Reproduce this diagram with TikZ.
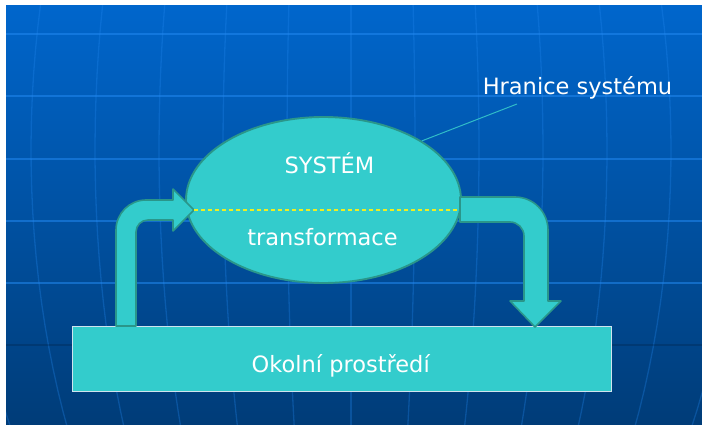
\documentclass[tikz,border=0pt]{standalone}
\usepackage{fontspec}
\setmainfont{DejaVu Sans}
\usetikzlibrary{shapes.geometric}

\definecolor{bgtop}{HTML}{0066CC}
\definecolor{bgbot}{HTML}{003C78}
\definecolor{gridblue}{HTML}{2288F0}
\definecolor{turq}{HTML}{33CCCC}
\definecolor{tealedge}{HTML}{2A968A}
\definecolor{boxedge}{HTML}{CFE4EE}
\definecolor{dashyellow}{HTML}{EEEE22}
\definecolor{leader}{HTML}{30BCC8}

\tikzset{
  gridline/.style={gridblue, opacity=0.55, line width=2pt},
  darkline/.style={black, opacity=0.15, line width=2pt},
  meridian/.style={gridblue, opacity=0.3, line width=1.3pt},
  blockarrow/.style={fill=turq, draw=tealedge, line width=1.6pt, line join=round},
  bubble/.style={ellipse, fill=turq, draw=tealedge, line width=1.9pt,
    minimum width=275pt, minimum height=166pt, inner sep=0pt},
  envbox/.style={rectangle, fill=turq, draw=boxedge, line width=1pt,
    minimum width=539pt, minimum height=65pt, inner sep=0pt},
  lbl/.style={text=white, font=\fontsize{22.5}{27}\selectfont, inner sep=0pt, anchor=base},
  divider/.style={dashyellow, line width=1.1pt, dash pattern=on 4pt off 3pt},
}

\begin{document}
\begin{tikzpicture}[x=1pt, y=-1pt]
  \useasboundingbox (0,0) rectangle (702,425);

  % slide background
  \fill[top color=bgtop, bottom color=bgbot] (6,6) rectangle (702,425);
  \begin{scope}
    \clip (6,6) rectangle (702,425);
    % meridians of the globe pattern
    \foreach \k in {-6,...,6} {
      \draw[meridian, domain=-14:28, samples=20, variable=\t]
        plot ({351 + 64*\k*cos(\t)}, {150 + 600*sin(\t)});
    }
    % latitude lines
    \foreach \yy in {34,96,159,221,283}
      \draw[gridline] (6,\yy) -- (702,\yy);
    \draw[darkline] (6,345) -- (702,345);
  \end{scope}

  % environment box
  \node[envbox] (env) at (341.5,358.5) {};
  \node[lbl] (envlabel) at (340.7,372) {Okolní prostředí};

  % system ellipse
  \node[bubble] (sys) at (323.5,200) {};

  % input arrow: from the environment into the system
  \draw[blockarrow] (116,326) -- (116,230)
    arc[start angle=180, end angle=270, radius=30]
    -- (173,200) -- (173,189) -- (194,210) -- (173,231) -- (173,220)
    -- (148,220) arc[start angle=270, end angle=180, radius=12]
    -- (136,326) -- cycle;

  % output arrow: from the system back to the environment
  \draw[blockarrow] (460,197) -- (515,197)
    arc[start angle=270, end angle=360, radius=33]
    -- (548,301) -- (561,301) -- (535,327) -- (510,301) -- (524,301)
    -- (524,236) arc[start angle=0, end angle=-90, radius=14]
    -- (460,222) -- cycle;

  % dividing line inside the system
  \coordinate (divL) at (194,210);
  \coordinate (divR) at (458,210);
  \draw[divider] (divL) -- (divR);

  \node[lbl] (systitle) at (329.5,174) {SYSTÉM};
  \node[lbl] (systrans) at (322.5,245) {transformace};

  % boundary label with its leader line
  \node[lbl] (boundary) at (577.5,95) {Hranice systému};
  \coordinate (leadend) at (517,104);
  \draw[leader, line width=1pt] (sys.31) -- (leadend);
\end{tikzpicture}
\end{document}
